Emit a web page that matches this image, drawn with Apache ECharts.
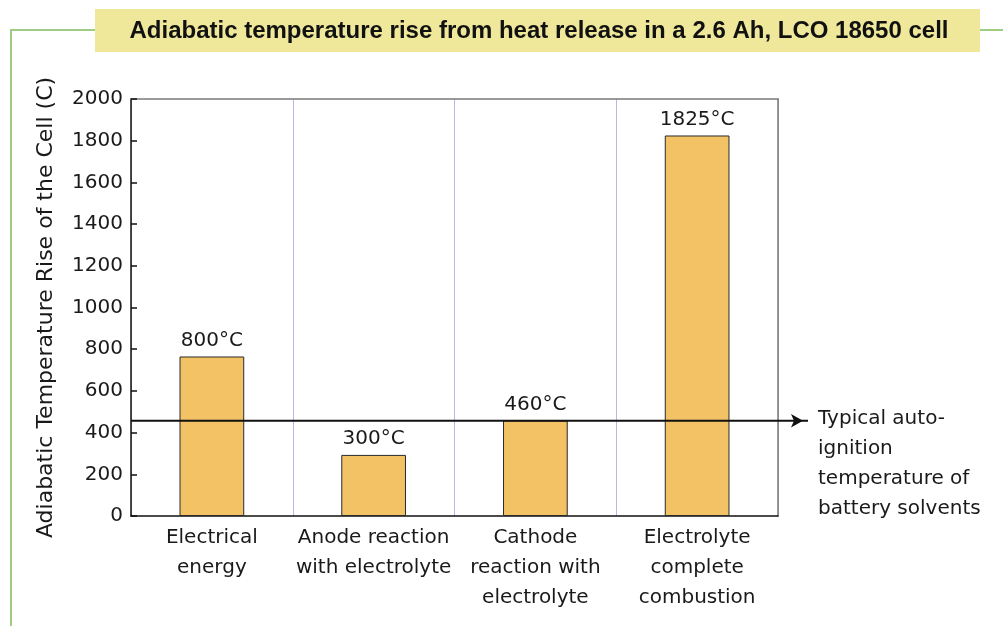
<!DOCTYPE html>
<html>
<head>
<meta charset="utf-8">
<script src="https://cdn.jsdelivr.net/npm/echarts@6/dist/echarts.min.js"></script>
<style>
    html, body { margin: 0; padding: 0; background: #fff; }
    #chart { width: 1003px; height: 626px; }
</style>
</head>
<body>
<div id="chart"></div>
<script>
// data
const categories = ['Electrical\nenergy', 'Anode reaction\nwith electrolyte', 'Cathode\nreaction with\nelectrolyte', 'Electrolyte\ncomplete\ncombustion'];
const riseValues = [765, 293, 458, 1825];
const riseLabels = ['800°C', '300°C', '460°C', '1825°C'];
const ignitionTemp = 457;
const ignitionText = 'Typical auto-\nignition\ntemperature of\nbattery solvents';
const titleText = 'Adiabatic temperature rise from heat release in a 2.6 Ah, LCO 18650 cell';
const yName = 'Adiabatic Temperature Rise of the Cell (C)';

const textColor = '#1a1a1a';
const font = 'DejaVu Sans';

const myChart = echarts.init(document.getElementById('chart'));

const option = {
    animation: false,
    backgroundColor: '#fff',
    textStyle: { fontFamily: font },
    graphic: [
        // green frame
        { type: 'polyline', shape: { points: [[11, 626], [11, 30], [95, 30]] }, style: { stroke: '#9fcb83', lineWidth: 2, fill: null } },
        { type: 'line', shape: { x1: 980, y1: 30, x2: 1003, y2: 30 }, style: { stroke: '#9fcb83', lineWidth: 2 } },
        // title box
        { type: 'rect', shape: { x: 95, y: 9, width: 885, height: 43 }, style: { fill: '#efe89b' } },
        {
            type: 'text', x: 539, y: 31,
            style: {
                text: titleText, fill: '#111', font: 'bold 24px "Liberation Sans"',
                align: 'center', verticalAlign: 'middle'
            }
        },
        // annotation text
        {
            type: 'text', x: 818, y: 404,
            style: {
                text: ignitionText, fill: textColor, fontFamily: font, fontSize: 20,
                lineHeight: 30, align: 'left', verticalAlign: 'top'
            }
        }
    ],
    grid: [
        { left: 131, right: 225, top: 99, bottom: 110 },
        { left: 131, right: 195, top: 99, bottom: 110 }
    ],
    xAxis: [
        {
            type: 'category',
            data: categories,
            gridIndex: 0,
            axisLine: { lineStyle: { color: '#111', width: 1.5 } },
            axisTick: { inside: true, length: 7, lineStyle: { color: '#111', width: 1.5 } },
            axisLabel: { interval: 0, color: textColor, fontSize: 20, lineHeight: 30, margin: 7 },
            splitLine: { show: true, interval: 0, lineStyle: { color: '#b9b9e8', width: 1 } }
        },
        {
            type: 'category', data: categories, gridIndex: 0, position: 'top',
            axisLine: { onZero: false, lineStyle: { color: '#7a7a7a', width: 1.5 } },
            axisTick: { show: false }, axisLabel: { show: false }
        },
        { type: 'value', gridIndex: 1, min: 0, max: 1, show: false }
    ],
    yAxis: [
        {
            type: 'value',
            gridIndex: 0,
            min: 0, max: 2000, interval: 200,
            name: yName,
            nameLocation: 'middle',
            nameGap: 74,
            nameTextStyle: { color: textColor, fontSize: 22 },
            axisLine: { show: true, lineStyle: { color: '#111', width: 1.5 } },
            axisTick: { show: true, inside: true, length: 6, lineStyle: { color: '#111', width: 1.5 } },
            axisLabel: { color: textColor, fontSize: 20, margin: 8, formatter: (v) => String(v) },
            splitLine: { show: false }
        },
        {
            type: 'value', gridIndex: 0, position: 'right', min: 0, max: 2000,
            axisLine: { show: true, onZero: false, lineStyle: { color: '#7a7a7a', width: 1.5 } },
            axisTick: { show: false }, axisLabel: { show: false }, splitLine: { show: false }
        },
        { type: 'value', gridIndex: 1, min: 0, max: 2000, show: false }
    ],
    series: [
        {
            type: 'bar',
            xAxisIndex: 0,
            yAxisIndex: 0,
            data: riseValues,
            barWidth: '40%',
            itemStyle: { color: '#f2c264', borderColor: '#2a2a2a', borderWidth: 1 },
            label: {
                show: true,
                position: 'top',
                distance: 6,
                color: textColor,
                fontSize: 20,
                formatter: (p) => riseLabels[p.dataIndex]
            }
        },
        {
            type: 'line',
            xAxisIndex: 2,
            yAxisIndex: 2,
            data: [
                { value: [0, ignitionTemp], symbol: 'none' },
                { value: [1, ignitionTemp], symbol: 'arrow', symbolSize: [10, 12], symbolRotate: -90, symbolOffset: [-5, 0] }
            ],
            showSymbol: true,
            lineStyle: { color: '#111', width: 2 },
            itemStyle: { color: '#111' },
            z: 5
        }
    ]
};

myChart.setOption(option);
</script>
</body>
</html>
